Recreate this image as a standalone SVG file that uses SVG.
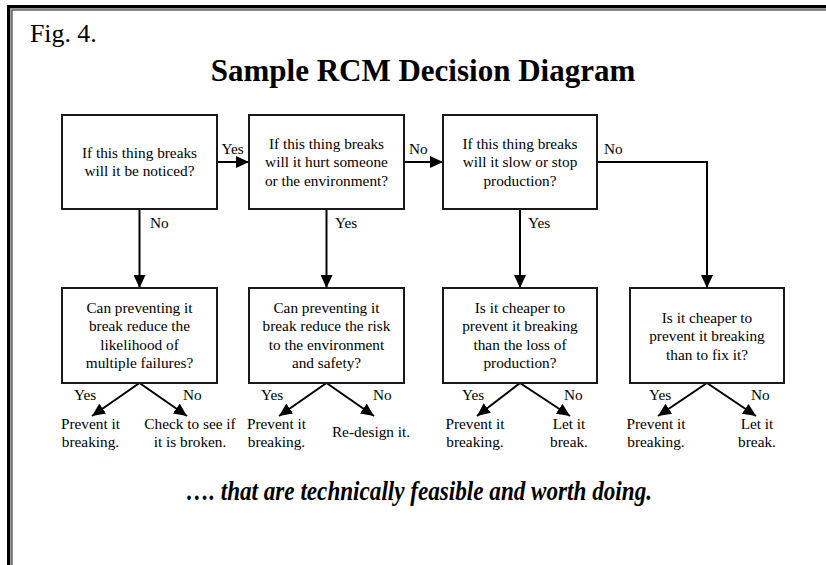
<svg xmlns="http://www.w3.org/2000/svg" width="826" height="565" viewBox="0 0 826 565">
<defs>
<style>
.t{font-family:"Liberation Serif","Times New Roman",serif;font-size:15.3px;fill:#000;}
.c{text-anchor:middle;}
.box{fill:#fff;stroke:#1a1a1a;stroke-width:2;}
.ln{fill:none;stroke:#000;stroke-width:2;}
</style>
<marker id="ah" markerUnits="userSpaceOnUse" markerWidth="14" markerHeight="12" refX="13" refY="6" orient="auto">
<path d="M0,0 L13,6 L0,12 Z" fill="#000"/>
</marker>
</defs>
<rect width="826" height="565" fill="#fff"/>
<g id="frame">
<path d="M8.5,565 V6.5 H826" fill="none" stroke="#000" stroke-width="3"/>
<path d="M10.75,565 V8.75 H826" fill="none" stroke="#999" stroke-width="1.5"/>
<path d="M12,565 V10 H826" fill="none" stroke="#222" stroke-width="1"/>
</g>
<text id="fig" class="t" x="30" y="42" style="font-size:25.8px">Fig. 4.</text>
<text id="title" class="t c" x="423" y="81" style="font-size:31px;font-weight:bold">Sample RCM Decision Diagram</text>

<g id="connectors">
<line class="ln" x1="217" y1="162" x2="249" y2="162" marker-end="url(#ah)"/>
<line class="ln" x1="404" y1="162" x2="443" y2="162" marker-end="url(#ah)"/>
<path class="ln" d="M597,162 H707 V288" marker-end="url(#ah)"/>
<line class="ln" x1="139.5" y1="209" x2="139.5" y2="288" marker-end="url(#ah)"/>
<line class="ln" x1="326.5" y1="209" x2="326.5" y2="288" marker-end="url(#ah)"/>
<line class="ln" x1="520" y1="209" x2="520" y2="288" marker-end="url(#ah)"/>
<line class="ln" x1="139.5" y1="383" x2="92" y2="416" marker-end="url(#ah)"/>
<line class="ln" x1="139.5" y1="383" x2="187" y2="416" marker-end="url(#ah)"/>
<line class="ln" x1="326.5" y1="383" x2="279" y2="416" marker-end="url(#ah)"/>
<line class="ln" x1="326.5" y1="383" x2="374" y2="416" marker-end="url(#ah)"/>
<line class="ln" x1="520" y1="383" x2="477" y2="416" marker-end="url(#ah)"/>
<line class="ln" x1="520" y1="383" x2="570" y2="416" marker-end="url(#ah)"/>
<line class="ln" x1="707" y1="383" x2="658" y2="416" marker-end="url(#ah)"/>
<line class="ln" x1="707" y1="383" x2="756" y2="416" marker-end="url(#ah)"/>
<text class="t" x="221.5" y="154">Yes</text>
<text class="t" x="409" y="154">No</text>
<text class="t" x="604" y="154">No</text>
<text class="t" x="150" y="228">No</text>
<text class="t" x="335" y="228">Yes</text>
<text class="t" x="528" y="228">Yes</text>
<text class="t" x="74" y="400">Yes</text>
<text class="t" x="183" y="400">No</text>
<text class="t" x="261" y="400">Yes</text>
<text class="t" x="373" y="400">No</text>
<text class="t" x="462" y="400">Yes</text>
<text class="t" x="564" y="400">No</text>
<text class="t" x="649" y="400">Yes</text>
<text class="t" x="751" y="400">No</text>
</g>

<g id="q1">
<rect class="box" x="62" y="115" width="155" height="94"/>
<text class="t c" x="139.5" y="157.5">If this thing breaks</text>
<text class="t c" x="139.5" y="176">will it be noticed?</text>
</g>
<g id="q2">
<rect class="box" x="249" y="115" width="155" height="94"/>
<text class="t c" x="326.5" y="148.5">If this thing breaks</text>
<text class="t c" x="326.5" y="167">will it hurt someone</text>
<text class="t c" x="326.5" y="185.5">or the environment?</text>
</g>
<g id="q3">
<rect class="box" x="443" y="115" width="154" height="94"/>
<text class="t c" x="520" y="148.5">If this thing breaks</text>
<text class="t c" x="520" y="167">will it slow or stop</text>
<text class="t c" x="520" y="185.5">production?</text>
</g>
<g id="q4">
<rect class="box" x="62" y="288" width="155" height="95"/>
<text class="t c" x="139.5" y="312.5">Can preventing it</text>
<text class="t c" x="139.5" y="331">break reduce the</text>
<text class="t c" x="139.5" y="349.5">likelihood of</text>
<text class="t c" x="139.5" y="368">multiple failures?</text>
</g>
<g id="q5">
<rect class="box" x="249" y="288" width="155" height="95"/>
<text class="t c" x="326.5" y="312.5">Can preventing it</text>
<text class="t c" x="326.5" y="331">break reduce the risk</text>
<text class="t c" x="326.5" y="349.5">to the environment</text>
<text class="t c" x="326.5" y="368">and safety?</text>
</g>
<g id="q6">
<rect class="box" x="443" y="288" width="154" height="95"/>
<text class="t c" x="520" y="312.5">Is it cheaper to</text>
<text class="t c" x="520" y="331">prevent it breaking</text>
<text class="t c" x="520" y="349.5">than the loss of</text>
<text class="t c" x="520" y="368">production?</text>
</g>
<g id="q7">
<rect class="box" x="630" y="288" width="154" height="95"/>
<text class="t c" x="707" y="322.5">Is it cheaper to</text>
<text class="t c" x="707" y="341">prevent it breaking</text>
<text class="t c" x="707" y="359.5">than to fix it?</text>
</g>

<g id="r1"><text class="t c" x="90.5" y="429">Prevent it</text><text class="t c" x="90.5" y="447">breaking.</text></g>
<g id="r2"><text class="t c" x="190" y="429">Check to see if</text><text class="t c" x="190" y="447">it is broken.</text></g>
<g id="r3"><text class="t c" x="276.5" y="429">Prevent it</text><text class="t c" x="276.5" y="447">breaking.</text></g>
<g id="r4"><text class="t c" x="371" y="437">Re-design it.</text></g>
<g id="r5"><text class="t c" x="475" y="429">Prevent it</text><text class="t c" x="475" y="447">breaking.</text></g>
<g id="r6"><text class="t c" x="569" y="429">Let it</text><text class="t c" x="569" y="447">break.</text></g>
<g id="r7"><text class="t c" x="656" y="429">Prevent it</text><text class="t c" x="656" y="447">breaking.</text></g>
<g id="r8"><text class="t c" x="757" y="429">Let it</text><text class="t c" x="757" y="447">break.</text></g>

<text id="footer" class="t" x="186" y="500" textLength="466" lengthAdjust="spacingAndGlyphs" style="font-size:27px;font-weight:bold;font-style:italic">…. that are technically feasible and worth doing.</text>
</svg>
